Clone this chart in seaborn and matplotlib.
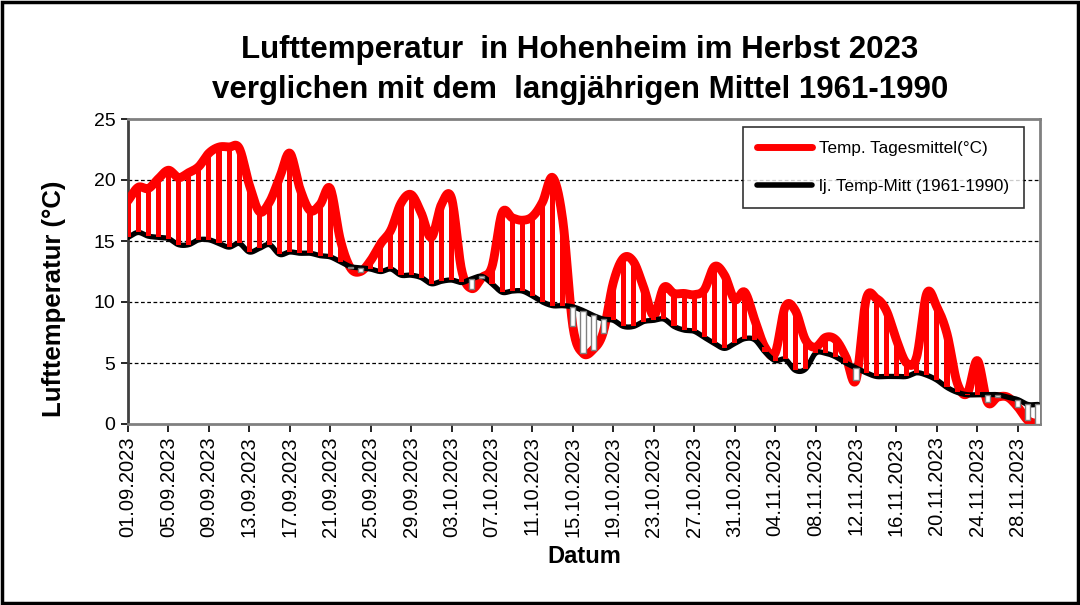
"""Lufttemperatur Hohenheim, Herbst 2023 vs. langjähriges Mittel 1961-1990."""

import numpy as np
import pandas as pd
import matplotlib
matplotlib.use("Agg")
import matplotlib.pyplot as plt
import matplotlib.patches as mpatches
from matplotlib.lines import Line2D
import seaborn as sns

# ---- data ----------------------------------------------------------------
START, END = "2023-09-01", "2023-11-30"

# Tagesmittel 2023 (°C)
TEMP = [18.3, 19.4, 19.3, 20.1, 20.8, 20.2, 20.6, 21.1, 22.2, 22.7,   # 01-10.09
        22.7, 22.6, 19.6, 17.4, 18.2, 20.2, 22.2, 19.3, 17.5, 18.0,   # 11-20.09
        19.3, 15.1, 12.8, 12.5, 13.4, 14.8, 15.9, 18.1, 18.8, 17.3,   # 21-30.09
        15.3, 18.0, 18.5, 12.6, 11.1, 12.0, 12.9, 17.3, 16.9, 16.7,   # 01-10.10
        17.0, 18.2, 20.2, 16.7, 8.0, 5.8, 6.1, 7.5, 11.6, 13.6,       # 11-20.10
        13.3, 11.2, 8.9, 11.2, 10.7, 10.7, 10.6, 11.0, 12.9, 12.2, 10.2,  # 21-31.10
        10.8, 8.5, 6.3, 5.8, 9.6, 9.3, 6.9, 6.3, 7.1, 6.9,            # 01-10.11
        5.5, 3.6, 10.2, 10.3, 9.3, 6.9, 5.0, 5.5, 10.7, 9.6,          # 11-20.11
        7.4, 3.4, 2.5, 5.2, 1.8, 2.2, 2.2, 1.4, 0.3, 0.0]             # 21-30.11

# langjähriges Mittel 1961-1990 (°C)
MEAN = [15.3, 15.7, 15.4, 15.3, 15.2, 14.7, 14.7, 15.1, 15.1, 14.8,
        14.5, 14.8, 14.1, 14.4, 14.7, 13.9, 14.1, 14.0, 14.0, 13.8,
        13.7, 13.3, 12.9, 12.8, 12.7, 12.5, 12.7, 12.2, 12.2, 12.0,
        11.5, 11.7, 11.8, 11.6, 11.9, 12.1, 11.5, 10.8, 10.9, 10.9,
        10.5, 10.0, 9.7, 9.7, 9.6, 9.3, 8.9, 8.6, 8.5, 8.0,
        8.0, 8.4, 8.5, 8.6, 8.0, 7.7, 7.6, 7.1, 6.6, 6.2, 6.6,
        7.0, 6.9, 5.9, 5.2, 5.3, 4.4, 4.5, 5.8, 5.8, 5.5,
        5.0, 4.6, 4.2, 3.9, 3.9, 3.9, 3.9, 4.2, 4.0, 3.6,
        3.0, 2.6, 2.4, 2.4, 2.4, 2.4, 2.2, 2.0, 1.6, 1.6]

LABEL_TEMP = "Temp. Tagesmittel(°C)"
LABEL_MEAN = "lj. Temp-Mitt (1961-1990)"
TITLE_1 = "Lufttemperatur  in Hohenheim im Herbst 2023"
TITLE_2 = "verglichen mit dem  langjährigen Mittel 1961-1990"

RED = "#FF0000"
GREY = "#808080"


def smooth(x, y, n=16):
    """Catmull-Rom curve through the points (like Excel's smoothed line)."""
    x = np.asarray(x, float)
    y = np.asarray(y, float)
    px = np.concatenate([[2 * x[0] - x[1]], x, [2 * x[-1] - x[-2]]])
    py = np.concatenate([[2 * y[0] - y[1]], y, [2 * y[-1] - y[-2]]])
    t = np.linspace(0, 1, n, endpoint=False)
    xs, ys = [], []
    for i in range(1, len(px) - 2):
        for p, out in ((px, xs), (py, ys)):
            p0, p1, p2, p3 = p[i - 1], p[i], p[i + 1], p[i + 2]
            out.append(0.5 * (2 * p1 + (-p0 + p2) * t
                              + (2 * p0 - 5 * p1 + 4 * p2 - p3) * t ** 2
                              + (-p0 + 3 * p1 - 3 * p2 + p3) * t ** 3))
    xs.append([x[-1]])
    ys.append([y[-1]])
    return np.concatenate(xs), np.concatenate(ys)


dates = pd.date_range(START, END, freq="D")
df = pd.DataFrame({"day": np.arange(len(dates)), "temp": TEMP, "mean": MEAN})

sns.set_style("white")
plt.rcParams["font.family"] = ["Liberation Sans", "DejaVu Sans"]
plt.rcParams.update({"text.color": "black", "axes.labelcolor": "black",
                     "xtick.color": "black", "ytick.color": "black"})

fig = plt.figure(figsize=(10.8, 6.05), dpi=100)
ax = fig.add_axes([128 / 1080, 1 - 424 / 605, 912 / 1080, 305 / 605])

# smoothed lines
sx, st = smooth(df["day"], df["temp"])
_, sm = smooth(df["day"], df["mean"])
curves = pd.DataFrame({"x": sx, "temp": st, "mean": sm})
sns.lineplot(data=curves, x="x", y="temp", ax=ax, color=RED, lw=6.4,
             sort=False, estimator=None, zorder=3, solid_capstyle="round")
sns.lineplot(data=curves, x="x", y="mean", ax=ax, color="black", lw=3.8,
             sort=False, estimator=None, zorder=4, solid_capstyle="round")

# up / down bars between the two series
diff = df["temp"] - df["mean"]
up = diff >= 0
ax.bar(df["day"][up], diff[up], bottom=df["mean"][up], width=0.5,
       color=RED, lw=0, zorder=5)
ax.bar(df["day"][~up], diff[~up], bottom=df["mean"][~up], width=0.5,
       facecolor="white", edgecolor=GREY, lw=1.0, zorder=5)

# axes
ax.set_xlim(0, 90.2)
ax.set_ylim(0, 25)
ax.set_yticks(range(0, 26, 5))
ax.set_xticks(df["day"][::4])
ax.set_xticklabels([d.strftime("%d.%m.%Y") for d in dates[::4]],
                   rotation=90, fontsize=14.5)
ax.tick_params(axis="y", labelsize=14, length=5, width=1.2, direction="out",
               left=True, pad=4)
ax.tick_params(axis="x", length=6, width=1.2, direction="out", bottom=True,
               pad=3)
for y in (5, 10, 15, 20):
    ax.axhline(y, color="black", lw=0.9, ls=(0, (3, 2)), zorder=1)

for side in ("top", "right", "bottom"):
    ax.spines[side].set_color(GREY)
    ax.spines[side].set_linewidth(2)
ax.spines["left"].set_color("#404040")
ax.spines["left"].set_linewidth(2)

ax.set_xlabel("Datum", fontsize=17, fontweight="bold", labelpad=6)
ax.set_ylabel("Lufttemperatur (°C)", fontsize=18.5, fontweight="bold")
ax.yaxis.set_label_coords(-0.068, 0.41)

fig.text(0.537, 1 - 50 / 605, TITLE_1, ha="center", va="center",
         fontsize=22.5, fontweight="bold")
fig.text(0.537, 1 - 90 / 605, TITLE_2, ha="center", va="center",
         fontsize=22.5, fontweight="bold")

# legend
handles = [Line2D([], [], color=RED, lw=5),
           Line2D([], [], color="black", lw=4)]
leg = ax.legend(handles, [LABEL_TEMP, LABEL_MEAN], loc="upper right",
                bbox_to_anchor=(0.982, 0.974), borderaxespad=0, fontsize=12.3,
                frameon=True, fancybox=False, edgecolor="black",
                handlelength=3.2, labelspacing=1.3, borderpad=0.85,
                handletextpad=0.4)
leg.get_frame().set_linewidth(1.2)
leg.set_zorder(10)

# outer frame
fig.patches.append(mpatches.Rectangle((0.002, 0.003), 0.996, 0.994,
                                      transform=fig.transFigure, fill=False,
                                      edgecolor="black", lw=2.5))

fig.savefig("out.png", dpi=100)
